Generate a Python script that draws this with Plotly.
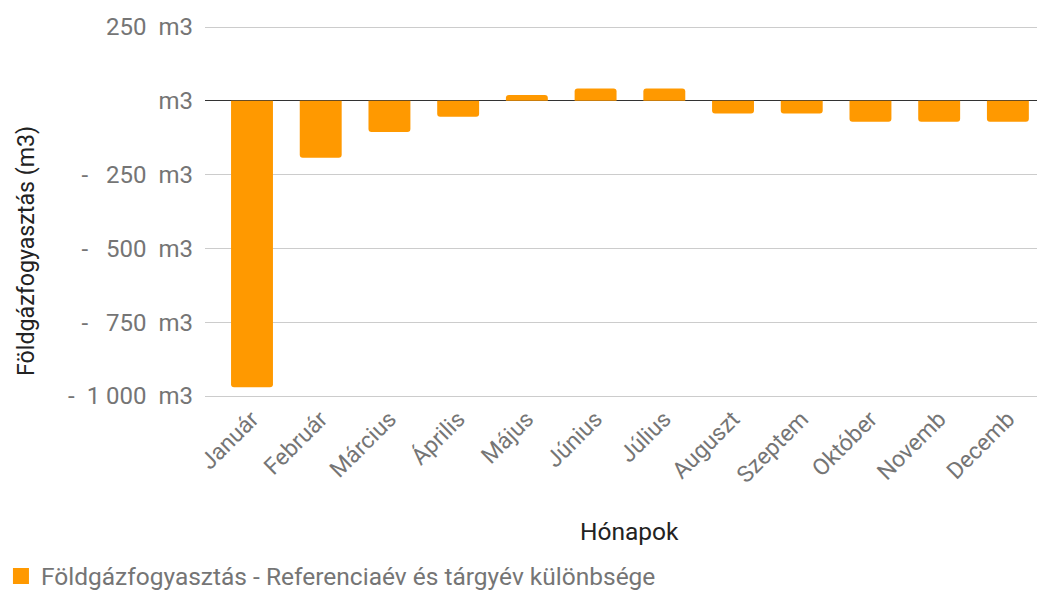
import plotly.graph_objects as go

months = ["Január", "Február", "Március", "Április", "Május", "Június",
          "Július", "Auguszt", "Szeptem", "Október", "Novemb", "Decemb"]
diff = [-970, -193, -106, -54, 20, 42, 42, -43, -43, -71, -71, -71]
series_name = "Földgázfogyasztás - Referenciaév és tárgyév különbsége"
y_tickvals = [250, 0, -250, -500, -750, -1000]
y_ticktext = ["250  m3", "m3", "-   250  m3", "-   500  m3", "-   750  m3", "-  1 000  m3"]
x_title = "Hónapok"
y_title = "Földgázfogyasztás (m3)"

BAR_COLOR = "#FF9900"
TICK_COLOR = "#757575"
TITLE_COLOR = "#222222"

fig = go.Figure()
fig.add_trace(go.Bar(
    x=list(range(len(months))), y=diff, name=series_name,
    marker=dict(color=BAR_COLOR, line=dict(width=0)),
    width=0.61, showlegend=False,
))
# legend entry with a larger square swatch
fig.add_trace(go.Scatter(
    x=[None], y=[None], mode="markers", name=series_name,
    marker=dict(symbol="square", size=22, color=BAR_COLOR),
    showlegend=True, hoverinfo="skip",
))

# page body has an 8px margin, so the figure is 8px smaller and margins are shifted
fig.update_layout(
    width=1037, height=582,
    margin=dict(l=197, r=0, t=10, b=190, autoexpand=False),
    paper_bgcolor="white", plot_bgcolor="white",
    font=dict(family="Roboto", size=23, color=TICK_COLOR),
    barcornerradius=3,
    showlegend=True,
    legend=dict(orientation="h", x=-0.2429, xanchor="left", y=-0.4607, yanchor="middle",
                font=dict(size=24.5, color=TICK_COLOR), itemwidth=30),
    xaxis=dict(
        tickmode="array", tickvals=list(range(len(months))), ticktext=months,
        tickangle=-45, range=[-0.684, 11.54], showgrid=False, zeroline=False,
        showline=False, ticks="", tickfont=dict(size=23, color=TICK_COLOR),
        ticklabelstandoff=0, automargin=False,
    ),
    yaxis=dict(
        range=[-1013.5, 280.5], tickmode="array", tickvals=y_tickvals, ticktext=y_ticktext,
        showgrid=True, gridcolor="#cccccc", gridwidth=1,
        zeroline=True, zerolinecolor="#333333", zerolinewidth=1,
        showline=False, ticks="", ticklabelstandoff=11, automargin=False,
        tickfont=dict(size=24, color=TICK_COLOR),
    ),
    annotations=[
        dict(text=x_title, xref="paper", yref="paper", x=0.5054, y=-0.3455,
             xanchor="center", yanchor="middle", showarrow=False,
             font=dict(size=24.5, color=TITLE_COLOR)),
        dict(text=y_title, xref="paper", yref="paper", x=-0.2131, y=0.390,
             xanchor="center", yanchor="middle", showarrow=False, textangle=-90,
             font=dict(size=23.2, color=TITLE_COLOR)),
    ],
)

fig.write_html("out.html")
